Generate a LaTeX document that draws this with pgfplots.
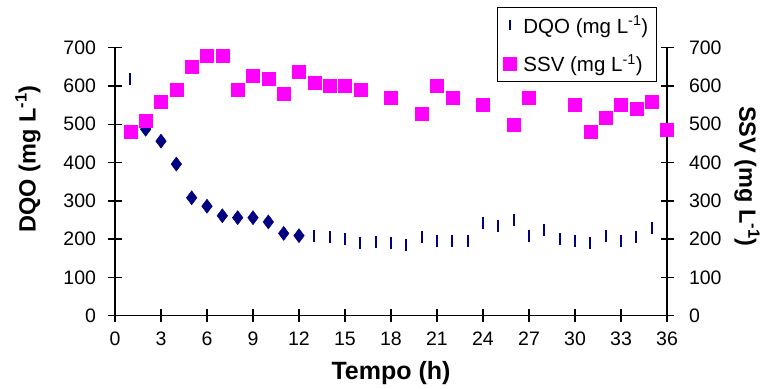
\documentclass[border=0pt]{standalone}
\usepackage{fontspec}
\setmainfont{Liberation Sans}
\usepackage{pgfplots}
\pgfplotsset{compat=1.18}
\definecolor{dqo}{RGB}{0,0,128}
\definecolor{ssv}{RGB}{255,0,255}
\begin{document}
\begin{tikzpicture}
\pgfplotsset{
  common/.style={
    scale only axis, width=552bp, height=268bp,
    xmin=0, xmax=36, ymin=0, ymax=700,
    ytick={0,100,...,700},
    tick align=center, major tick length=13bp,
    axis line style={line width=1.5bp},
    every tick/.style={black, line width=1.5bp},
    tick label style={font=\fontsize{19.5bp}{22bp}\selectfont},
    /pgf/number format/assume math mode=true,
    clip=false,
  },
}
\begin{axis}[common,
  axis y line*=left, axis x line*=bottom,
  xtick={0,3,...,36},
  yticklabel style={xshift=-9bp},
  xticklabel style={yshift=-6bp},
  xlabel={Tempo (h)},
  ylabel={DQO (mg L\textsuperscript{-1})},
  every axis x label/.style={at={(rel axis cs:0.5,0)}, yshift=-57bp, anchor=center, font=\fontsize{25bp}{28bp}\selectfont\bfseries},
  every axis y label/.style={at={(rel axis cs:0,0.585)}, xshift=-87bp, rotate=90, anchor=center, font=\fontsize{23.5bp}{26bp}\selectfont\bfseries},
]
\coordinate (bl) at (rel axis cs:0,0);
\coordinate (tr) at (rel axis cs:1,1);
\addplot[only marks, mark=|, mark size=6bp, color=dqo, mark options={line width=2.2bp}] coordinates {
 (1,617) (13,208) (14,205) (15,200) (16,190) (17,193) (18,190) (19,185)
 (20,205) (21,195) (22,195) (23,195) (24,241) (25,235) (26,251) (27,209)
 (28,225) (29,200) (30,195) (31,190) (32,209) (33,195) (34,205) (35,230) (36,230)
};
\addplot[only marks, mark=diamond*, mark size=7bp, color=dqo, mark options={line width=0.5bp}] coordinates {
 (2,487) (3,456) (4,396) (5,308) (6,286) (7,261) (8,256) (9,256) (10,245) (11,215) (12,209)
};
\end{axis}
\begin{axis}[common,
  axis y line*=right, axis x line=none,
  yticklabel style={xshift=12bp},
  ylabel={SSV (mg L\textsuperscript{-1})},
  every axis y label/.style={at={(rel axis cs:1,0.52)}, xshift=80bp, rotate=-90, anchor=center, font=\fontsize{23.5bp}{26bp}\selectfont\bfseries},
  legend style={at={(rel axis cs:0.982,1.152)}, anchor=north east, draw=black, line width=1.5bp, fill=white,
    font=\fontsize{20.5bp}{23bp}\selectfont, row sep=16bp, column sep=5bp, inner sep=6bp},
  legend cell align=left,
]
\addlegendimage{only marks, mark=|, mark size=5bp, color=dqo, mark options={line width=2.2bp}}
\addlegendentry{DQO (mg L\textsuperscript{-1})}
\addplot[only marks, mark=square*, mark size=6.5bp, color=ssv, mark options={line width=0.3bp}] coordinates {
 (1,480) (2,510) (3,560) (4,590) (5,650) (6,680) (7,680) (8,590) (9,627) (10,620)
 (11,580) (12,637) (13,610) (14,600) (15,600) (16,590) (18,570) (20,527) (21,600)
 (22,570) (24,550) (26,500) (27,570) (30,550) (31,480) (32,518) (33,550) (34,540)
 (35,560) (36,485)
};
\addlegendentry{SSV (mg L\textsuperscript{-1})}
\end{axis}
\pgfresetboundingbox
\path ([shift={(-115bp,-73.3bp)}]bl) rectangle ([shift={(100bp,47.7bp)}]tr);
\end{tikzpicture}
\end{document}
